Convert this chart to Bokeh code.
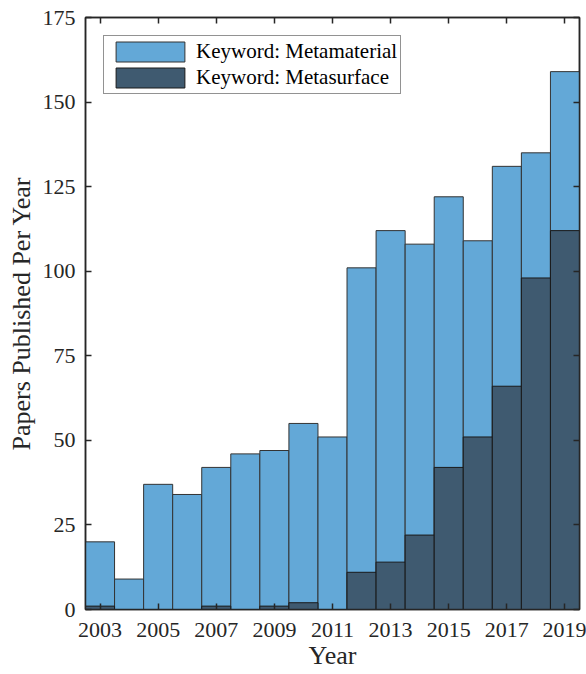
from bokeh.plotting import figure
from bokeh.models import Range1d, FixedTicker, LinearAxis, Legend, LegendItem, CustomJSTickFormatter
from bokeh.embed import file_html
from bokeh.resources import INLINE

years = list(range(2003, 2020))
metamaterial = [20, 9, 37, 34, 42, 46, 47, 55, 51, 101, 112, 108, 122, 109, 131, 135, 159]
metasurface = [1, 0, 0, 0, 1, 0, 1, 2, 0, 11, 14, 22, 42, 51, 66, 98, 112]
x_ticks = [2003, 2005, 2007, 2009, 2011, 2013, 2015, 2017, 2019]
y_ticks = [0, 25, 50, 75, 100, 125, 150, 175]

FONT = "'Liberation Serif'"
LIGHT = "#63A8D7"
DARK = "#3F5A70"

p = figure(width=586, height=674, output_backend="svg", toolbar_location=None,
           x_range=Range1d(2002.5, 2019.5), y_range=Range1d(0, 175),
           min_border_left=85, min_border_top=17, min_border_right=7, min_border_bottom=65)

r1 = p.vbar(x=years, top=metamaterial, width=1.0, fill_color=LIGHT,
            line_color="#333333", line_width=1)
r2 = p.vbar(x=years, top=metasurface, width=1.0, fill_color=DARK,
            line_color="#1a1a1a", line_width=1)

p.xgrid.visible = False
p.ygrid.visible = False
p.outline_line_color = "#262626"
p.outline_line_width = 1.5

for ax in (p.xaxis[0], p.yaxis[0]):
    ax.major_label_text_font = FONT
    ax.major_label_text_font_size = "22px"
    ax.major_label_text_color = "#262626"
    ax.axis_label_text_font = FONT
    ax.axis_label_text_font_size = "26px"
    ax.axis_label_text_font_style = "normal"
    ax.axis_label_text_color = "#262626"
    ax.major_tick_in = 6
    ax.major_tick_out = 0
    ax.minor_tick_in = 0
    ax.minor_tick_out = 0
    ax.axis_line_color = "#262626"
    ax.axis_line_width = 1.5
    ax.major_tick_line_color = "#262626"
    ax.major_tick_line_width = 1.5

p.xaxis[0].ticker = FixedTicker(ticks=x_ticks)
p.yaxis[0].ticker = FixedTicker(ticks=y_ticks)
p.xaxis[0].axis_label = "Year"
p.yaxis[0].axis_label = "Papers Published Per Year"
p.xaxis[0].major_label_standoff = 13
p.yaxis[0].major_label_standoff = 10
p.xaxis[0].axis_label_standoff = 1
p.yaxis[0].axis_label_standoff = 4

top_ax = LinearAxis(ticker=FixedTicker(ticks=x_ticks))
right_ax = LinearAxis(ticker=FixedTicker(ticks=y_ticks))
for ax in (top_ax, right_ax):
    ax.formatter = CustomJSTickFormatter(code="return ''")
    ax.major_label_text_font_size = "1px"
    ax.major_label_standoff = 0
    ax.major_tick_in = 6
    ax.major_tick_out = 0
    ax.minor_tick_in = 0
    ax.minor_tick_out = 0
    ax.axis_line_color = "#262626"
    ax.axis_line_width = 1.5
    ax.major_tick_line_color = "#262626"
    ax.major_tick_line_width = 1.5
p.add_layout(top_ax, "above")
p.add_layout(right_ax, "right")

legend = Legend(items=[LegendItem(label="Keyword: Metamaterial", renderers=[r1]),
                       LegendItem(label="Keyword: Metasurface", renderers=[r2])],
                location="top_left", margin=18, padding=3, spacing=1,
                glyph_width=86, glyph_height=25, label_standoff=3,
                label_text_font=FONT, label_text_font_size="21px",
                label_text_color="#000000", label_height=25,
                border_line_color="#262626", border_line_width=1,
                background_fill_color="white", background_fill_alpha=1)
p.add_layout(legend)

open("out.html", "w").write(file_html(p, INLINE))
